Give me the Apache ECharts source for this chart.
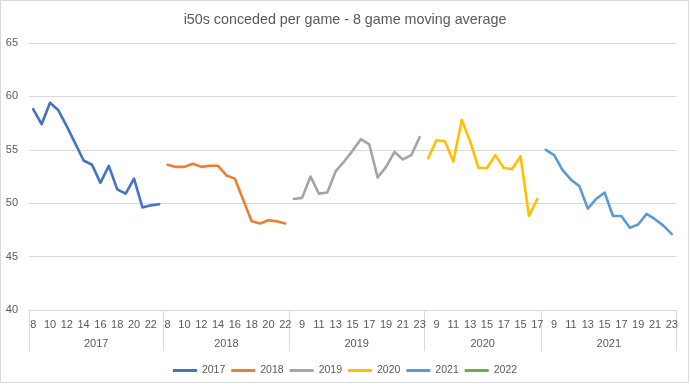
<!DOCTYPE html>
<html>
<head>
<meta charset="utf-8">
<script src="https://cdn.jsdelivr.net/npm/echarts@6/dist/echarts.min.js"></script>
<style>html,body{margin:0;padding:0;background:#fff;}#c{width:690px;height:384px;}</style>
</head>
<body>
<div id="c"></div>
<script>
// Round labels (first level of the category axis)
const rounds2017 = [8,9,10,11,12,13,14,15,16,17,18,19,20,21,22,23];
const rounds2018 = [8,9,10,11,12,13,14,15,16,17,18,19,20,21,22];
const rounds2019 = [8,9,10,11,12,13,14,15,16,17,18,19,20,21,22,23];
const rounds2020 = [8,9,10,11,12,13,14,15,16,17,14,15,16,17];
const rounds2021 = [8,9,10,11,12,13,14,15,16,17,18,19,20,21,22,23];

// Season labels (second level)
const seasons = ['2017','2018','2019','2020','2021'];
const seriesNames = ['2017','2018','2019','2020','2021','2022'];

// 8 game moving average of i50s conceded
const values2017 = [58.8,57.4,59.4,58.7,57.2,55.6,54.0,53.6,51.9,53.5,51.3,50.9,52.3,49.6,49.8,49.9];
const values2018 = [53.6,53.4,53.4,53.7,53.4,53.5,53.5,52.6,52.3,50.3,48.3,48.1,48.4,48.3,48.1];
const values2019 = [50.4,50.5,52.5,50.9,51.0,53.0,53.9,54.9,56.0,55.5,52.4,53.4,54.8,54.1,54.5,56.2];
const values2020 = [54.2,55.9,55.8,53.9,57.8,55.8,53.3,53.3,54.5,53.3,53.2,54.4,48.8,50.4];
const values2021 = [55.0,54.5,53.1,52.2,51.6,49.5,50.4,51.0,48.8,48.8,47.7,48.0,49.0,48.5,47.9,47.1];
const values2022 = [];

const colors = ['#4472C4','#ED7D31','#A5A5A5','#FFC000','#5B9BD5','#70AD47'];

const roundGroups = [rounds2017, rounds2018, rounds2019, rounds2020, rounds2021];
const valueGroups = [values2017, values2018, values2019, values2020, values2021, values2022];

const cats = [];
const offsets = [];
const bounds = new Set([0]);
const centers = {};
let n = 0;
roundGroups.forEach((r, g) => {
  offsets.push(n);
  r.forEach((rd, k) => cats.push(seasons[g] + '|' + k + '|' + rd));
  centers[2 * n + r.length] = seasons[g];
  n += r.length;
  bounds.add(2 * n);
});
offsets.push(n);
const half = [];
for (let i = 0; i <= 2 * n; i++) half.push('h' + i);

const series = seriesNames.map((name, s) => {
  const data = new Array(n).fill(null);
  valueGroups[s].forEach((v, k) => { data[offsets[s] + k] = v; });
  return {
    name: name,
    type: 'line',
    data: data,
    xAxisIndex: 0,
    symbol: 'none',
    connectNulls: false,
    lineStyle: { width: 2.6, color: colors[s], cap: 'round', join: 'round' },
    itemStyle: { color: colors[s] }
  };
});

const FONT = 'Liberation Sans, Arial, sans-serif';
const txt = '#595959';
const gridC = '#D9D9D9';

const chart = echarts.init(document.getElementById('c'), null, { renderer: 'canvas' });
chart.setOption({
  animation: false,
  backgroundColor: '#fff',
  title: {
    text: 'i50s conceded per game - 8 game moving average',
    left: 'center',
    top: 8,
    textStyle: { fontFamily: FONT, fontSize: 14.3, fontWeight: 'normal', color: txt }
  },
  graphic: [{
    type: 'rect',
    shape: { x: 0.5, y: 0.5, width: 688, height: 382 },
    style: { fill: 'none', stroke: gridC, lineWidth: 1 },
    silent: true,
    z: -1
  }],
  legend: {
    data: seriesNames,
    left: 'center',
    top: 360,
    icon: 'rect',
    itemWidth: 24,
    itemHeight: 3,
    itemGap: 6,
    textStyle: { fontFamily: FONT, fontSize: 10.5, color: txt }
  },
  grid: { left: 29, right: 14, top: 43, bottom: 74, containLabel: false },
  xAxis: [{
    type: 'category',
    data: cats,
    boundaryGap: true,
    axisLine: { show: true, lineStyle: { color: gridC, width: 1 } },
    axisTick: { show: false },
    axisLabel: {
      interval: 1,
      margin: 9,
      fontFamily: FONT,
      fontSize: 11,
      color: txt,
      formatter: v => v.split('|')[2]
    },
    splitLine: { show: false }
  }, {
    type: 'category',
    data: half,
    position: 'bottom',
    boundaryGap: false,
    axisLine: { show: false },
    axisTick: {
      show: true,
      interval: (i) => bounds.has(i),
      length: 41,
      inside: false,
      lineStyle: { color: gridC, width: 1 }
    },
    axisLabel: {
      interval: (i) => centers[i] !== undefined,
      margin: 28,
      fontFamily: FONT,
      fontSize: 11,
      color: txt,
      formatter: (v) => centers[parseInt(v.slice(1), 10)] || ''
    },
    splitLine: { show: false }
  }],
  yAxis: {
    type: 'value',
    min: 40,
    max: 65,
    interval: 5,
    axisLine: { show: false },
    axisTick: { show: false },
    axisLabel: { margin: 11, fontFamily: FONT, fontSize: 11, color: txt },
    splitLine: { lineStyle: { color: gridC, width: 1 } }
  },
  series: series
});
</script>
</body>
</html>
